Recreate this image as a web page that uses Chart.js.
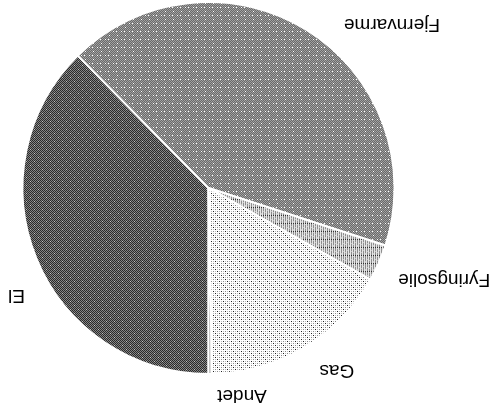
<!DOCTYPE html>
<html>
<head>
<meta charset="utf-8">
<script src="https://cdn.jsdelivr.net/npm/chart.js@4.4.0/dist/chart.umd.min.js"></script>
<style>
  html, body { margin: 0; padding: 0; background: #ffffff; }
  #wrap { width: 490px; height: 408px; position: relative; transform: rotate(180deg); background: #ffffff; }
</style>
</head>
<body>
<div id="wrap"><canvas id="c"></canvas></div>
<script>
// ---- data ----
const categories = ['El', 'Fjernvarme', 'Fyringsolie', 'Gas', 'Andet'];
const shares = [37.6, 42.4, 3.2, 16.5, 0.3];

// ---- label layout (angle clockwise from top in degrees, distance as fraction of radius) ----
const labelAngles = [60.4, 228.5, 291.5, 325.1, 350.9];
const labelDistances = [1.187, 1.317, 1.362, 1.206, 1.139];

// ---- dithered fill patterns ----
function makePattern(rows, pal) {
  const h = rows.length, w = rows[0].length;
  const c = document.createElement('canvas');
  c.width = w; c.height = h;
  const g = c.getContext('2d');
  for (let y = 0; y < h; y++) {
    for (let x = 0; x < w; x++) {
      g.fillStyle = pal[rows[y][x]];
      g.fillRect(x, y, 1, 1);
    }
  }
  return g.createPattern(c, 'repeat');
}

const patEl = makePattern([
  'adadadad',
  'dadadada',
  'adaladad',
  'dadadada',
  'adadadad',
  'dadadada',
  'adadadal',
  'dadadada'
], { a: '#2a2a2a', d: '#858585', l: '#c0c0c0' });

const patFjern = makePattern([
  'wmdmdwdm',
  'mdmdmdmd',
  'dmdmdmdm',
  'mdmdmdmd',
  'dmdmwmdm',
  'mdmdmdmd',
  'dmdmdmdm',
  'mdmdmdmd'
], { w: '#ffffff', m: '#6a6a6a', d: '#a0a0a0' });

const patFyr = makePattern([
  'kwkwkwkw',
  'gwgwlwgw',
  'gwgwlwgw',
  'lwgwgwgw',
  'gwlwgwgw',
  'gwgwgwlw',
  'gwgwgwgw',
  'lwgwgwgw'
], { k: '#333333', g: '#8e8e8e', l: '#c4c4c4', w: '#e6e6e6' });

const patGas = makePattern([
  'kwlwgwlw',
  'wwwwwwww',
  'lwkwlwgw',
  'wwwwwwww',
  'gwlwkwlw',
  'wwwwwwww',
  'lwgwlwkw',
  'wwwwwwww'
], { k: '#222222', g: '#8a8a8a', l: '#bdbdbd', w: '#ffffff' });

const patAndet = makePattern([
  'gw',
  'gw'
], { g: '#8a8a8a', w: '#d8d8d8' });

const outerLabels = {
  id: 'outerLabels',
  afterDatasetsDraw(chart, args, opts) {
    const ctx = chart.ctx;
    const meta = chart.getDatasetMeta(0);
    ctx.save();
    ctx.font = opts.font;
    ctx.fillStyle = opts.color;
    ctx.textAlign = 'center';
    ctx.textBaseline = 'alphabetic';
    meta.data.forEach((arc, i) => {
      const p = arc.getProps(['x', 'y', 'outerRadius'], true);
      const th = opts.angles[i] * Math.PI / 180;
      const d = opts.distances[i] * p.outerRadius;
      const x = p.x + d * Math.sin(th);
      const y = p.y - d * Math.cos(th);
      ctx.fillText(chart.data.labels[i], x, y + opts.capHalf);
    });
    ctx.restore();
  }
};

new Chart(document.getElementById('c'), {
  type: 'pie',
  data: {
    labels: categories,
    datasets: [{
      data: shares,
      backgroundColor: [patEl, patFjern, patFyr, patGas, patAndet],
      borderColor: '#ffffff',
      borderWidth: 2,
      radius: 186
    }]
  },
  options: {
    responsive: true,
    maintainAspectRatio: false,
    animation: false,
    layout: { padding: { left: 96, right: 23, top: 35, bottom: 3 } },
    plugins: {
      legend: { display: false },
      tooltip: { enabled: false },
      outerLabels: {
        angles: labelAngles,
        distances: labelDistances,
        font: '19px "Liberation Sans", Arial, sans-serif',
        color: '#000000',
        capHalf: 6.8
      }
    }
  },
  plugins: [outerLabels]
});
</script>
</body>
</html>
